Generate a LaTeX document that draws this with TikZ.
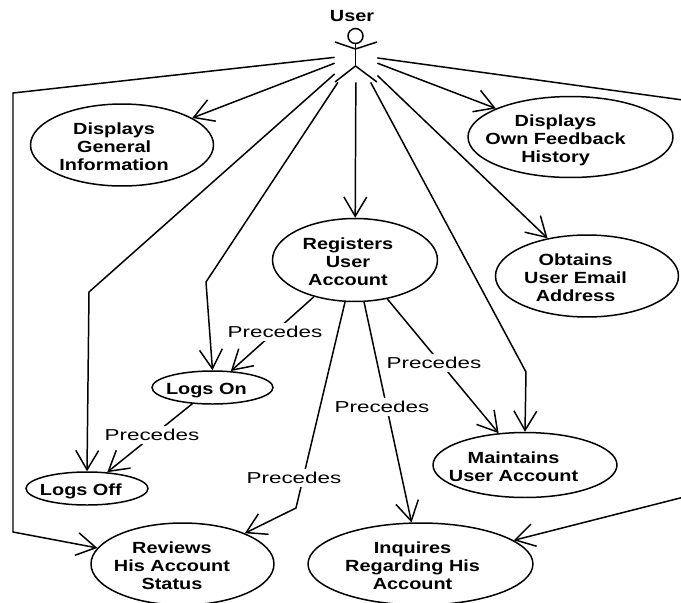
\documentclass[tikz,border=0pt]{standalone}
\usepackage{fontspec}
\usetikzlibrary{positioning, shapes.geometric, arrows.meta}
\newfontfamily\casefont[FakeStretch=1.23]{Liberation Sans}
\newfontfamily\linkfont[FakeStretch=1.42]{Liberation Sans}
\newcommand{\casetext}[2]{\makebox[0pt]{\raisebox{-4.3pt}[0pt][0pt]{\begin{tabular}{@{}c@{}}#2\end{tabular}}\kern#1}}
\tikzset{
	usecase/.style={ellipse, draw, line width=0.85pt, inner sep=0pt, font=\casefont\bfseries\fontsize{9.2}{10.2}\selectfont},
	precedes/.style={fill=white, inner xsep=1pt, inner ysep=2pt, font=\linkfont\fontsize{9}{10}\selectfont},
	link/.style={line width=0.85pt, -{Straight Barb[length=11pt,width=13pt]}}
}

\begin{document}
\begin{tikzpicture}[x=0.02cm, y=-0.02cm]
	\path[use as bounding box] (0, 0) rectangle (681, 603);
	\clip (0, 0) rectangle (681, 603);

	\node (0) at (356, 55) [minimum width=0.84cm, minimum height=1.08cm, inner sep=0pt] {};
	\node (1) at (352, 16) [inner sep=0pt, font=\casefont\bfseries\fontsize{9.2}{10.2}\selectfont] {User};
	\node (2) at (355.5, 36) [circle, draw, line width=0.85pt, minimum size=0.3cm, inner sep=0pt] {};
	\coordinate (hip) at (355.5, 66);
	\coordinate (neck) at (355.5, 49);
	\draw[line width=0.85pt] (2) to (hip);
	\draw[line width=0.85pt] (335, 42) -- (neck) -- (377, 42);
	\draw[line width=0.85pt] (335, 82) -- (hip) -- (377, 82);

	\node (3) at (122, 145) [usecase, minimum width=3.66cm, minimum height=1.64cm] {\casetext{9pt}{Displays\\General\\Information}};
	\node (4) at (570.5, 137) [usecase, minimum width=4.1cm, minimum height=1.62cm] {\casetext{17pt}{Displays\\Own Feedback\\History}};
	\node (5) at (355, 260) [usecase, minimum width=3.3cm, minimum height=1.66cm] {\casetext{8pt}{Registers\\User\\Account}};
	\node (6) at (587, 276) [usecase, minimum width=3.66cm, minimum height=1.64cm] {\casetext{13pt}{Obtains\\User Email\\Address}};
	\node (7) at (212.5, 387.5) [usecase, minimum width=2.42cm, minimum height=0.66cm] {\casetext{7pt}{Logs On}};
	\node (8) at (87, 488.5) [usecase, minimum width=2.44cm, minimum height=0.66cm] {\casetext{7pt}{Logs Off}};
	\node (9) at (525, 465) [usecase, minimum width=3.68cm, minimum height=1.3cm] {\casetext{13pt}{Maintains\\User Account}};
	\node (10) at (182.5, 564) [usecase, minimum width=3.66cm, minimum height=1.64cm] {\casetext{12pt}{Reviews\\His Account\\Status}};
	\node (11) at (420.5, 564) [usecase, minimum width=4.5cm, minimum height=1.64cm] {\casetext{9pt}{Inquires\\Regarding His\\Account}};

	\coordinate (c1) at (13, 93);
	\coordinate (c2) at (13, 532);
	\coordinate (c3) at (89, 292);
	\coordinate (c4) at (206, 282);
	\coordinate (c5) at (526, 372);
	\coordinate (c6) at (690, 101);
	\coordinate (c7) at (690, 495.5);
	\coordinate (c8) at (296, 508);

	\draw[link] (0) to (3);
	\draw[link] (0) to (4);
	\draw[link] (0) to (5);
	\draw[link] (0) to (6);
	\draw[link] (0) -- (c1) -- (c2) -- (10);
	\draw[link] (0) -- (c3) -- (8.north);
	\draw[link] (0) -- (c4) -- (7.north);
	\draw[link] (0) -- (c5) -- (9.north);
	\draw[link] (0) -- (c6) -- (c7) -- (11);

	\draw[link] (5) to (7);
	\draw[link] (7) to (8);
	\draw[link] (5) -- (c8) -- (10);
	\draw[link] (5) to (11);
	\draw[link] (5) to (9);

	\node (12) at (275, 332) [precedes] {Precedes};
	\node (13) at (152, 435) [precedes] {Precedes};
	\node (14) at (294, 478) [precedes] {Precedes};
	\node (15) at (382, 407) [precedes] {Precedes};
	\node (16) at (434, 363) [precedes] {Precedes};
\end{tikzpicture}
\end{document}
